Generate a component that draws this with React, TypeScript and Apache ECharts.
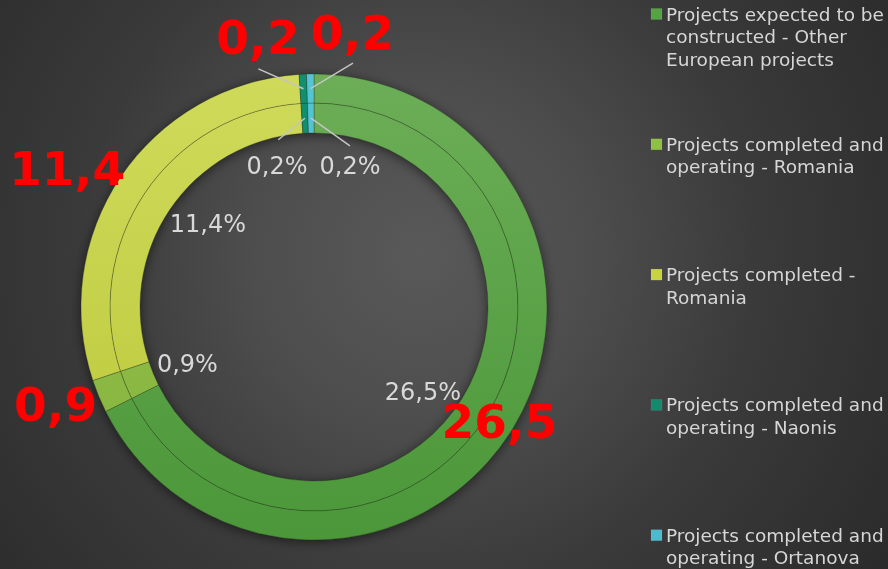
import React, { useEffect, useRef } from "react";
import * as echarts from "echarts";

// ---- data ----
const categories = [
  "Projects expected to be constructed - Other European projects",
  "Projects completed and operating - Romania",
  "Projects completed - Romania",
  "Projects completed and operating - Naonis",
  "Projects completed and operating - Ortanova",
];
const legendLines = [
  ["Projects expected to be", "constructed - Other", "European projects"],
  ["Projects completed and", "operating - Romania"],
  ["Projects completed -", "Romania"],
  ["Projects completed and", "operating - Naonis"],
  ["Projects completed and", "operating - Ortanova"],
];
const values = [26.5, 0.9, 11.4, 0.2, 0.2];

// ---- styles ----
const colorTop = ["#6cae57", "#93c04e", "#d0da5a", "#119070", "#55c4d4"];
const colorBottom = ["#4b9739", "#86b53d", "#bac93a", "#0d8466", "#48b9ca"];
const legendColors = ["#55a443", "#8dc043", "#c7d440", "#14896c", "#4bbbd0"];

// ---- layout ----
const CX = 314;
const CY = 307;
const OUTER_R: [number, number] = [204, 233];
const INNER_R: [number, number] = [174, 204];
const outerLabelRadius = [218, 276, 283, 275, 277];
const outerLabelShift = [0, -1.9, 4.7, 9.0, -8.9];
const outerLeader = [false, false, false, true, true];
const outerLeaderEndR = [0, 0, 0, 244.5, 247];
const outerLeaderEndShift = [0, 0, 0, 10.4, -10.0];
const innerLabelRadius = [138, 139, 135, 146, 146];
const innerLabelShift = [-6.2, 1.9, -4.2, 11.9, -15.2];
const innerLeader = [false, false, false, true, true];
const innerLeaderEndR = [0, 0, 0, 171, 165];
const innerLeaderEndShift = [0, 0, 0, 9.3, -13.5];
const LEGEND_X = 651;
const LEGEND_TOP = 14;
const LEGEND_STEP = 130.3;

const fmt = (v: number) => v.toFixed(1).replace(".", ",");
const total = values.reduce((a, b) => a + b, 0);
const midAngles = (() => {
  let acc = 0;
  return values.map((v) => {
    const a = 90 - ((acc + v / 2) / total) * 360;
    acc += v;
    return a;
  });
})();
const polar = (r: number, deg: number): [number, number] => [
  CX + r * Math.cos((deg * Math.PI) / 180),
  CY - r * Math.sin((deg * Math.PI) / 180),
];

const grad = (i: number) =>
  new echarts.graphic.LinearGradient(
    0,
    CY - OUTER_R[1],
    0,
    CY + OUTER_R[1],
    [
      { offset: 0, color: colorTop[i] },
      { offset: 1, color: colorBottom[i] },
    ],
    true
  );

const leaderLines = () => {
  const out: any[] = [];
  const mk = (x1: number, y1: number, x2: number, y2: number) => ({
    type: "line",
    z: 100,
    silent: true,
    shape: { x1, y1, x2, y2 },
    style: { stroke: "#c4c4c4", lineWidth: 1.5 },
  });
  values.forEach((_, i) => {
    if (outerLeader[i]) {
      const [x1, y1] = polar((OUTER_R[0] + OUTER_R[1]) / 2, midAngles[i]);
      const [x2, y2] = polar(outerLeaderEndR[i], midAngles[i] + outerLeaderEndShift[i]);
      out.push(mk(x1, y1, x2, y2));
    }
    if (innerLeader[i]) {
      const [x1, y1] = polar((INNER_R[0] + INNER_R[1]) / 2, midAngles[i]);
      const [x2, y2] = polar(innerLeaderEndR[i], midAngles[i] + innerLeaderEndShift[i]);
      out.push(mk(x1, y1, x2, y2));
    }
  });
  return out;
};

export default function App() {
  const ref = useRef<HTMLDivElement>(null);
  useEffect(() => {
    if (!ref.current) return;
    const chart = echarts.init(ref.current, undefined, { renderer: "svg" });

    const mkData = () =>
      values.map((v, i) => ({
        name: categories[i],
        value: v,
        itemStyle: { color: grad(i) },
      }));

    const option: any = {
      animation: false,
      backgroundColor: "transparent",
      series: [
        {
          // shadow under the whole ring
          type: "pie",
          z: 1,
          center: [CX, CY],
          radius: [INNER_R[0], OUTER_R[1]],
          silent: true,
          label: { show: false },
          labelLine: { show: false },
          itemStyle: {
            color: "#3c3c3c",
            shadowBlur: 12,
            shadowColor: "rgba(0,0,0,0.55)",
            shadowOffsetY: 2,
          },
          data: [{ value: 1, name: "_shadow" }],
        },
        {
          type: "pie",
          z: 2,
          center: [CX, CY],
          radius: INNER_R,
          startAngle: 90,
          clockwise: true,
          avoidLabelOverlap: false,
          silent: true,
          itemStyle: {
            borderColor: "rgba(30,40,20,0.5)",
            borderWidth: 0.6,
          },
          label: {
            show: true,
            position: "outside",
            formatter: (p: any) => fmt(p.value) + "%",
            color: "#d9d9d9",
            fontFamily: "DejaVu Sans",
            fontSize: 24,
          },
          labelLine: { show: false },
          labelLayout: (p: any) => {
            const i = p.dataIndex;
            const [x, y] = polar(innerLabelRadius[i], midAngles[i] + innerLabelShift[i]);
            return { x, y, align: "center", verticalAlign: "middle" };
          },
          data: mkData(),
        },
        {
          type: "pie",
          z: 3,
          center: [CX, CY],
          radius: OUTER_R,
          startAngle: 90,
          clockwise: true,
          avoidLabelOverlap: false,
          silent: true,
          itemStyle: {
            borderColor: "rgba(30,40,20,0.5)",
            borderWidth: 0.6,
          },
          label: {
            show: true,
            position: "outside",
            formatter: (p: any) => fmt(p.value),
            color: "#ff0000",
            fontFamily: "DejaVu Sans",
            fontWeight: "bold",
            fontSize: 47,
          },
          labelLine: { show: false },
          labelLayout: (p: any) => {
            const i = p.dataIndex;
            const [x, y] = polar(outerLabelRadius[i], midAngles[i] + outerLabelShift[i]);
            return { x, y, align: "center", verticalAlign: "middle" };
          },
          data: mkData(),
        },
      ],
      graphic: [
        ...leaderLines(),
        ...legendLines.flatMap((lines, i) => {
          const cy = LEGEND_TOP + i * LEGEND_STEP;
          return [
            {
              type: "rect",
              silent: true,
              shape: { x: LEGEND_X, y: cy - 5.5, width: 11, height: 11 },
              style: { fill: legendColors[i], stroke: "rgba(255,255,255,0.15)", lineWidth: 0.5 },
            },
            {
              type: "text",
              silent: true,
              x: LEGEND_X + 15,
              y: cy - 11.25,
              style: {
                text: lines.join("\n"),
                fill: "#d6d6d6",
                fontFamily: "DejaVu Sans",
                fontSize: 18.5,
                lineHeight: 22.5,
                align: "left",
                verticalAlign: "top",
              },
            },
          ];
        }),
      ],
    };
    chart.setOption(option);
    return () => chart.dispose();
  }, []);

  return (
    <div
      style={{
        position: "fixed",
        left: 0,
        top: 0,
        width: 888,
        height: 569,
        background:
          "radial-gradient(circle at 420px 255px, #595959 0px, #4d4d4d 170px, #3a3a3a 340px, #2b2b2b 560px)",
      }}
    >
      <div ref={ref} style={{ width: 888, height: 569 }} />
    </div>
  );
}
